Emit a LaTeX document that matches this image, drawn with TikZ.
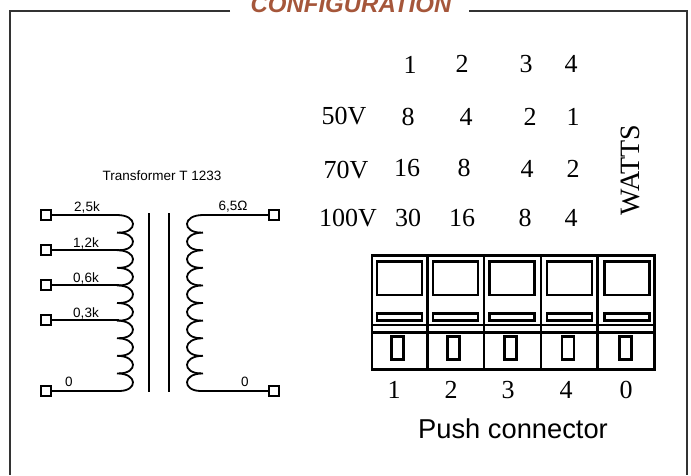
\documentclass[tikz,border=0pt]{standalone}
\usepackage{fontspec}
\setmainfont{Liberation Serif}
\setsansfont{Liberation Sans}
\usepackage{xcolor}
\usetikzlibrary{positioning, calc}
\definecolor{titlebrown}{HTML}{A5563A}
\definecolor{framegrey}{HTML}{333333}

\begin{document}
\begin{tikzpicture}[
    x=1pt, y=-1pt,
    terminal/.style={rectangle, draw, line width=2pt, fill=white, minimum size=10pt, inner sep=0pt},
    wire/.style={line width=1.8pt},
    smalltext/.style={font=\sffamily\fontsize{13.5}{14}\selectfont, inner sep=0pt},
    value/.style={font=\fontsize{26}{28}\selectfont, inner sep=0pt},
    thickbox/.style={draw, line width=2.8pt}
]
\useasboundingbox (0,0) rectangle (691,475);
\clip (0,0) rectangle (691,475);

% Frame and title
\draw[framegrey, line width=2pt] (230,11) -- (10,11) -- (10,475);
\draw[framegrey, line width=2pt] (469,11) -- (687,11) -- (687,475);
\node[font=\sffamily\bfseries\itshape\fontsize{24}{26}\selectfont, text=titlebrown, inner sep=0pt, anchor=base] (title) at (351,12) {CONFIGURATION};

% Transformer
\node[smalltext] (name) at (162,176) {Transformer T 1233};
\draw[line width=2pt] (149,213) -- (149,392);
\draw[line width=1.8pt] (169,213) -- (169,392);

% Primary and secondary windings
\foreach \i in {0,...,9} {
  \pgfmathsetmacro{\ya}{215+17.6*\i}
  \pgfmathsetmacro{\yb}{215+17.6*(\i+1)}
  \draw[wire] (117,\ya) .. controls (138,\ya) and (138,\yb) .. (119,\yb);
  \draw[wire] (203,\ya) .. controls (182,\ya) and (182,\yb) .. (201,\yb);
}

% Terminals
\node[terminal] (p1) at (46,215) {};
\node[terminal] (p2) at (46,250) {};
\node[terminal] (p3) at (46,285) {};
\node[terminal] (p4) at (46,320) {};
\node[terminal] (p5) at (46,391) {};
\node[terminal] (s1) at (274,215) {};
\node[terminal] (s2) at (274,391) {};
\coordinate (t1) at (117,215);
\coordinate (t2) at (119,250);
\coordinate (t3) at (119,285);
\coordinate (t4) at (119,320);
\coordinate (t5) at (119,391);
\coordinate (u1) at (203,215);
\coordinate (u2) at (201,391);
\foreach \i in {1,...,5} \draw[wire] (p\i) -- (t\i);
\foreach \i in {1,2} \draw[wire] (s\i) -- (u\i);

% Winding labels
\node[smalltext] (l1) at (87,207) {2,5k};
\node[smalltext] (l2) at (86,243) {1,2k};
\node[smalltext] (l3) at (86,278) {0,6k};
\node[smalltext] (l4) at (86,313) {0,3k};
\node[smalltext] (l5) at (69,382) {0};
\node[smalltext] (l6) at (233,207) {6,5Ω};
\node[smalltext] (l7) at (245,382) {0};

% Watts table
\foreach \txt/\px/\py [count=\n] in {
  1/410/65, 2/462/64, 3/526/64, 4/571/64,
  50V/344/116, 8/408/117, 4/466/117, 2/530/117, 1/573/117,
  70V/346/170, 16/407/168, 8/464/168, 4/527/169, 2/573/169,
  100V/348/218, 30/408/218, 16/462/218, 8/525/218, 4/571/218}
  \node[value] (cell\n) at (\px,\py) {\txt};
\node[font=\fontsize{28}{30}\selectfont, inner sep=0pt, rotate=90] (watts) at (630,170) {WATTS};

% Push connector
\draw[thickbox] (372,255.5) rectangle (654.5,369.5);
\foreach \x in {427.7,484,541,597.3} \draw[thickbox] (\x,255.5) -- (\x,369.5);
\draw[thickbox] (372,325) -- (654.5,325);
\draw[thickbox] (372,332.5) -- (654.5,332.5);
\foreach \x/\s/\lx/\num [count=\n] in {377/391.5/394/1, 433/447.5/451/2, 489.7/504.8/508/3, 547/562/566/4, 604.7/619.8/626/0} {
  \draw[thickbox] (\x,261.5) rectangle ++(45,33.5);
  \draw[thickbox] (\x,313.5) rectangle ++(45,7);
  \draw[thickbox] (\s,336.5) rectangle ++(12,23);
  \node[value] (pin\n) at (\lx,390) {\num};
}
\node[font=\sffamily\fontsize{27.3}{29}\selectfont, inner sep=0pt] (push) at (513,429) {Push connector};

\end{tikzpicture}
\end{document}
